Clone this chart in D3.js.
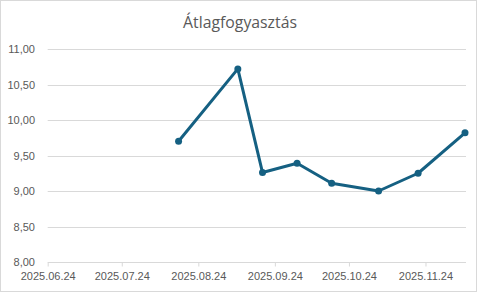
<!DOCTYPE html>
<html>
<head>
<meta charset="utf-8">
<script src="https://cdn.jsdelivr.net/npm/d3@7"></script>
<style>
  body { margin: 0; background: #fff; }
  svg { display: block; }
</style>
</head>
<body>
<svg id="chart"></svg>
<script>
// average consumption, one reading per date
let dates = ["2025-08-16", "2025-09-09", "2025-09-19", "2025-10-03",
  "2025-10-17", "2025-11-05", "2025-11-21", "2025-12-10"];
let values = [9.7, 10.72, 9.26, 9.39, 9.11, 9.0, 9.25, 9.82];

let xTicks = ["2025-06-24", "2025-07-24", "2025-08-24", "2025-09-24",
  "2025-10-24", "2025-11-24"];
let yTicks = [8, 8.5, 9, 9.5, 10, 10.5, 11];
let title = "Átlagfogyasztás";

let width = 480, height = 293;
let parse = d3.timeParse("%Y-%m-%d");

let svg = d3.select("#chart").attr("width", width).attr("height", height);

// outer chart border
svg.append("rect")
  .attr("x", 0.5).attr("y", 0.5)
  .attr("width", 476).attr("height", 291)
  .attr("fill", "#fff")
  .attr("stroke", "#d9d9d9");

svg.append("text")
  .attr("x", 240).attr("y", 28)
  .attr("text-anchor", "middle")
  .style("font-family", "'Open Sans', sans-serif")
  .style("font-size", "15.8px")
  .style("fill", "#595959")
  .text(title);

let x = d3.scaleTime()
  .domain([parse(xTicks[0]), parse(dates[dates.length - 1])])
  .range([47.7, 465]);

let y = d3.scaleLinear().domain([8, 11]).range([262, 49]);

let huFormat = d3.formatLocale({ decimal: ",", thousands: " ", grouping: [3], currency: ["", " Ft"] }).format(".2f");

// gridlines
svg.append("g")
  .selectAll("line")
  .data(yTicks.slice(1))
  .join("line")
  .attr("x1", 47.7).attr("x2", 466)
  .attr("y1", d => Math.round(y(d)) + 0.5)
  .attr("y2", d => Math.round(y(d)) + 0.5)
  .attr("stroke", "#d9d9d9");

let yAxis = svg.append("g")
  .attr("transform", "translate(35,0)")
  .call(d3.axisLeft(y).tickValues(yTicks).tickFormat(huFormat).tickSize(0).tickPadding(0));
yAxis.select(".domain").remove();
yAxis.selectAll("text")
  .style("font-family", "'Liberation Sans', Arial, sans-serif")
  .style("font-size", "11px")
  .style("fill", "#595959");

let xAxis = svg.append("g")
  .attr("transform", "translate(0," + (Math.round(y(8)) + 0.5) + ")")
  .call(d3.axisBottom(x)
    .tickValues(xTicks.map(parse))
    .tickFormat(d3.timeFormat("%Y.%m.%d"))
    .tickSizeInner(4).tickSizeOuter(0).tickPadding(6));
xAxis.select(".domain").attr("stroke", "#d9d9d9").attr("d", "M47.7,0H466");
xAxis.selectAll(".tick line").attr("stroke", "#d9d9d9");
xAxis.selectAll("text")
  .style("font-family", "'Liberation Sans', Arial, sans-serif")
  .style("font-size", "11px")
  .style("fill", "#595959");

let points = dates.map((d, i) => ({ date: parse(d), value: values[i] }));

svg.append("path")
  .datum(points)
  .attr("fill", "none")
  .attr("stroke", "#156082")
  .attr("stroke-width", 3)
  .attr("stroke-linejoin", "round")
  .attr("d", d3.line().x(d => x(d.date)).y(d => y(d.value)));

svg.append("g")
  .selectAll("circle")
  .data(points)
  .join("circle")
  .attr("cx", d => x(d.date))
  .attr("cy", d => y(d.value))
  .attr("r", 3.5)
  .attr("fill", "#156082");
</script>
</body>
</html>
